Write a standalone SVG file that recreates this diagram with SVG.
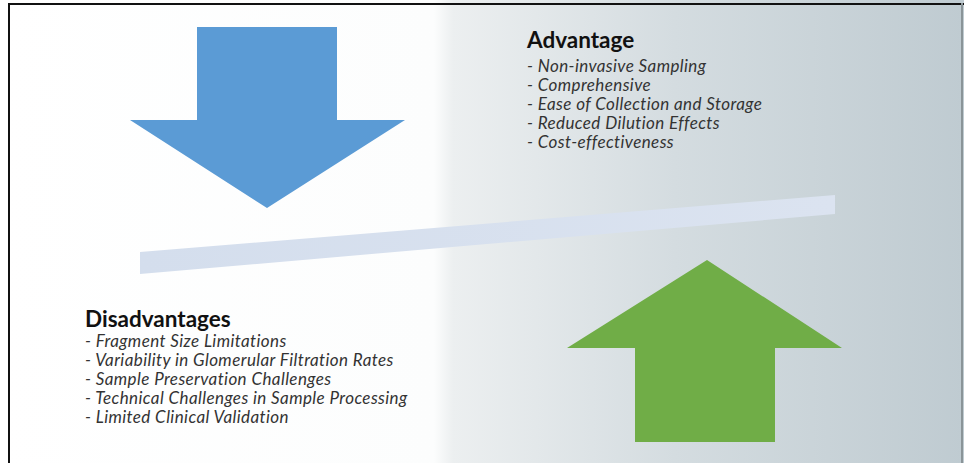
<svg xmlns="http://www.w3.org/2000/svg" width="964" height="463" viewBox="0 0 964 463">
<defs>
<linearGradient id="bg" x1="0" y1="0" x2="964" y2="0" gradientUnits="userSpaceOnUse">
<stop offset="0" stop-color="#ffffff"/>
<stop offset="0.45" stop-color="#fcfdfd"/>
<stop offset="0.47" stop-color="#eceff0"/>
<stop offset="0.7" stop-color="#d4dce0"/>
<stop offset="1" stop-color="#bfcbd1"/>
</linearGradient>
<linearGradient id="bar" x1="0" y1="0" x2="1" y2="0">
<stop offset="0" stop-color="#d4deed"/>
<stop offset="1" stop-color="#dbe3f0"/>
</linearGradient>
</defs>
<style>
.h{font-family:Lato,"Liberation Sans",sans-serif;font-weight:bold;font-size:22.5px;fill:#111}
.i{font-family:Lato,"Liberation Sans",sans-serif;font-style:italic;font-size:17px;letter-spacing:0.4px;fill:#333}
</style>
<rect x="0" y="0" width="964" height="463" fill="url(#bg)"/>
<g id="border" stroke-linecap="square">
<line x1="9" y1="4" x2="963" y2="4" stroke="#111" stroke-width="2"/>
<line x1="9" y1="4" x2="9" y2="463" stroke="#111" stroke-width="2"/>
<line x1="962" y1="4" x2="962" y2="463" stroke="#8a9498" stroke-width="2"/>
</g>
<g id="balance-bar">
<polygon points="140,252 835,195 835,214 140,274" fill="url(#bar)"/>
</g>
<g id="arrow-down">
<polygon points="197,27 337,27 337,120 405,120 267,208 130,120 197,120" fill="#5b9bd5"/>
</g>
<g id="arrow-up">
<polygon points="707,260 842,348 775,348 775,442 635,442 635,348 567,348" fill="#70ad47"/>
</g>
<g id="advantage">
<text class="h" x="527" y="48">Advantage</text>
<text class="i" x="527" y="72">- Non-invasive Sampling</text>
<text class="i" x="527" y="91">- Comprehensive</text>
<text class="i" x="527" y="110">- Ease of Collection and Storage</text>
<text class="i" x="527" y="129">- Reduced Dilution Effects</text>
<text class="i" x="527" y="148">- Cost-effectiveness</text>
</g>
<g id="disadvantages">
<text class="h" x="85" y="327">Disadvantages</text>
<text class="i" x="85" y="347">- Fragment Size Limitations</text>
<text class="i" x="85" y="366">- Variability in Glomerular Filtration Rates</text>
<text class="i" x="85" y="385">- Sample Preservation Challenges</text>
<text class="i" x="85" y="404">- Technical Challenges in Sample Processing</text>
<text class="i" x="85" y="423">- Limited Clinical Validation</text>
</g>
<g id="connectors"/>
</svg>
